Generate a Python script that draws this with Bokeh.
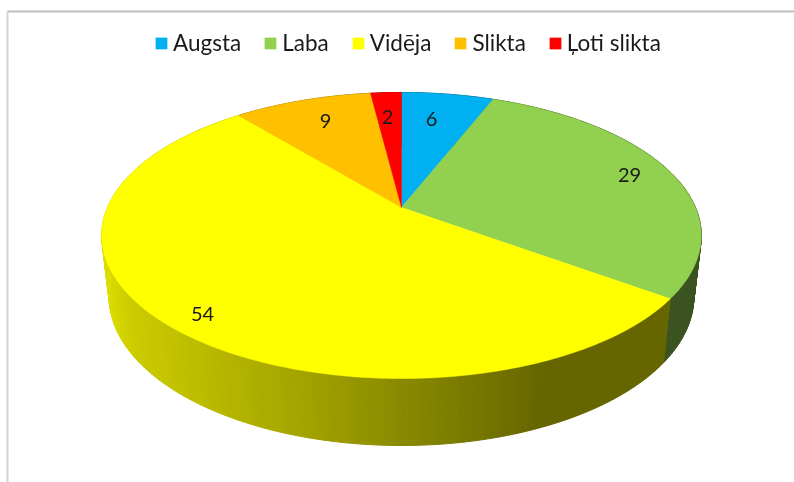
from bokeh.plotting import figure
from bokeh.models import Range1d, Legend, LegendItem
from bokeh.embed import file_html
from bokeh.resources import INLINE
from bokeh.core.properties import value
import numpy as np

categories = ["Augsta", "Laba", "Vidēja", "Slikta", "Ļoti slikta"]
values = [6, 29, 54, 9, 2]
colors = ["#00B0F0", "#92D050", "#FFFF00", "#FFC000", "#FF0000"]
label_x = [431, 629, 202, 325, 387]
label_y = [118, 174, 313, 120, 116]

CX, APEX_Y, A, C, K = 401.0, 207.0, 294.0, 0.1958, -97.0
FRONT_Y, BOTTOM_Y, WALL_SX, WALL_SY = 378.0, 445.0, 0.975, 1.04
shade_x = [100, 130, 300, 540, 800]
shade_f = [0.88, 0.80, 0.64, 0.40, 0.40]


def rim(theta):
    u, v = np.sin(theta), np.cos(theta)
    w = C * v + 1
    return CX + A * u / w, (K * v + APEX_Y) / w


def lower(x, y):
    return CX + WALL_SX * (x - CX), BOTTOM_Y + WALL_SY * (y - FRONT_Y)


def hexc(rgb):
    return "#%02x%02x%02x" % tuple(int(round(c)) for c in rgb)


p = figure(width=794, height=482, output_backend="svg", toolbar_location=None,
           x_range=Range1d(0, 794), y_range=Range1d(482, 0), min_border=0,
           outline_line_color=None, background_fill_color="white")
p.axis.visible = False
p.grid.visible = False
p.styles = {"position": "fixed", "left": "0px", "top": "0px"}

edges = np.cumsum([0] + values) / sum(values) * 2 * np.pi

# side wall, shaded by horizontal position
xs, ys, fc = [], [], []
for i, col in enumerate(colors):
    base = np.array([int(col[j:j + 2], 16) for j in (1, 3, 5)], float)
    n = max(2, int(values[i] * 4))
    t = np.linspace(edges[i], edges[i + 1], n + 1)
    for a, b in zip(t[:-1], t[1:]):
        x0, y0 = rim(a)
        x1, y1 = rim(b)
        x2, y2 = lower(x1, y1)
        x3, y3 = lower(x0, y0)
        xs.append([x0, x1, x2, x3])
        ys.append([y0, y1, y2, y3])
        fc.append(hexc(base * np.interp((x0 + x1 + x2 + x3) / 4, shade_x, shade_f)))
p.patches(xs, ys, fill_color=fc, line_color=fc, line_width=1)

# top surface
items = []
for i, col in enumerate(colors):
    t = np.linspace(edges[i], edges[i + 1], int(values[i] * 6) + 2)
    x, y = rim(t)
    r = p.patch(np.r_[CX, x], np.r_[APEX_Y, y], fill_color=col, line_color=col, line_width=0.5)
    items.append(LegendItem(label=categories[i], renderers=[r]))

p.text(label_x, label_y, text=[str(v) for v in values], text_font=value("Lato"),
       text_font_size="20px", text_color="#1a1a1a", text_align="center", text_baseline="middle")

legend = Legend(items=items, orientation="horizontal", location=(154, 426), border_line_color=None,
                background_fill_alpha=0, label_text_font="Lato", label_text_font_size="22.5px",
                label_text_color="#1a1a1a", glyph_width=14, glyph_height=14, label_standoff=5,
                spacing=22, padding=8, margin=0)
p.add_layout(legend, "center")

# picture frame
p.line([794, 7], [11, 11], line_color="#bdbdbd", line_width=2)
p.line([7, 7], [11, 482], line_color="#d4d4d4", line_width=2)

open("out.html", "w").write(file_html(p, INLINE))
